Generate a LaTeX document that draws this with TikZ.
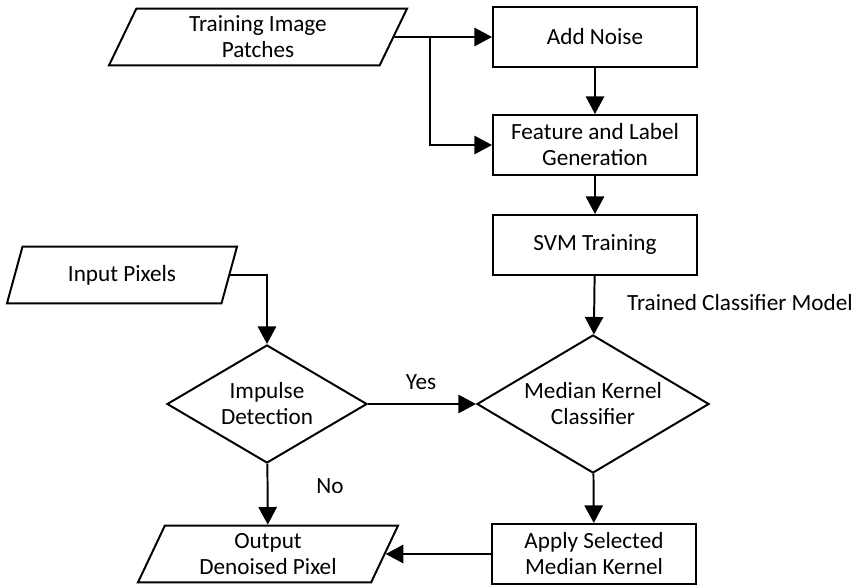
\documentclass[tikz,border=0pt]{standalone}
\usepackage{fontspec}
\setmainfont{Carlito}
\usetikzlibrary{shapes.geometric,arrows.meta}

\begin{document}
\begin{tikzpicture}[x=0.025cm, y=-0.025cm, font=\fontsize{16.5}{18.5}\selectfont]
    % Define styles
    \tikzstyle{process} = [rectangle, draw, line width=1.4pt, align=center, minimum width=5.1cm, minimum height=1.5cm]
    \tikzstyle{io} = [trapezium, trapezium left angle=62, trapezium right angle=118, trapezium stretches body, draw, line width=1.4pt, align=center, minimum height=1.42cm]
    \tikzstyle{decision} = [diamond, aspect=1.7, draw, line width=1.4pt, align=center, inner sep=0pt]
    \tikzstyle{arrow} = [line width=1.4pt, -{Triangle[length=12.5pt,width=13pt]}]

    \useasboundingbox (0,0) rectangle (855,586);

    % Training branch
    \node (patches) [io, minimum width=7.45cm] at (258,37) {Training Image\\Patches};
    \node (noise) [process] at (595,37) {Add Noise};
    \node (feature) [process] at (595,145) {Feature and Label\\Generation};
    \node (svm) [process] at (595,245) {SVM Training};

    % Classification branch
    \node (input) [io, minimum width=5.75cm] at (122,275) {Input Pixels};
    \node (impulse) [decision, minimum width=5cm, minimum height=2.95cm] at (267,404) {Impulse\\Detection};
    \node (median) [decision, minimum width=5.8cm, minimum height=3.45cm] at (593,404) {Median Kernel\\Classifier};
    \node (apply) [process] at (594,554) {Apply Selected\\Median Kernel};
    \node (output) [io, minimum width=6.5cm] at (268,554) {Output\\Denoised Pixel};

    % Labels
    \node (model) at (740,303) {Trained Classifier Model};
    \node (yes) at (421,382) {Yes};
    \node (no) at (330,486) {No};

    % Connections
    \coordinate (split) at (430,37);
    \draw [arrow] (patches.east) -- (noise.west);
    \draw [arrow] (split) |- (feature.west);
    \draw [arrow] (noise) -- (feature);
    \draw [arrow] (feature) -- (svm);
    \draw [arrow] (svm) -- (median);
    \draw [arrow] (input.east) -| (impulse.north);
    \draw [arrow] (impulse) -- (median);
    \draw [arrow] (impulse) -- (output);
    \draw [arrow] (median) -- (apply);
    \draw [arrow] (apply) -- (output);
\end{tikzpicture}
\end{document}
